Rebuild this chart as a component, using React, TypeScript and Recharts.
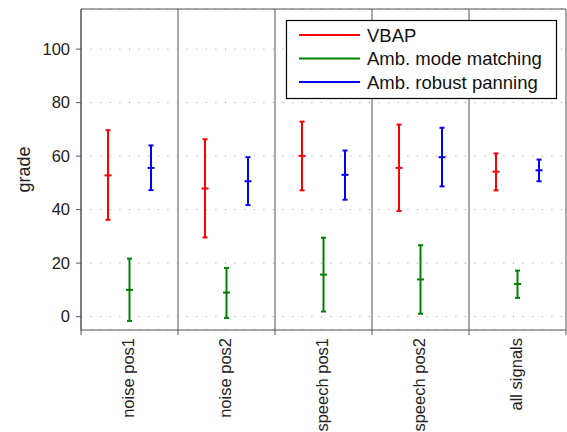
import React from 'react';
import { BarChart, Bar, XAxis, YAxis, CartesianGrid, ErrorBar, ReferenceLine } from 'recharts';

const categories = ['noise pos1', 'noise pos2', 'speech pos1', 'speech pos2', 'all signals'];

const vbapMean = [52.8, 47.9, 60.1, 55.6, 54.2];
const vbapLow = [36.2, 29.6, 47.2, 39.5, 47.2];
const vbapHigh = [69.7, 66.3, 72.9, 71.8, 61.0];

const modeMean = [10.0, 9.0, 15.7, 13.9, 12.2];
const modeLow = [-1.6, -0.5, 1.9, 1.1, 7.0];
const modeHigh = [21.7, 18.2, 29.5, 26.7, 17.2];

const robustMean = [55.6, 50.6, 53.0, 59.6, 54.7];
const robustLow = [47.3, 41.7, 43.7, 48.7, 50.6];
const robustHigh = [64.0, 59.6, 62.1, 70.6, 58.7];

const yTicks = [0, 20, 40, 60, 80, 100];

const series = [
  { key: 'vbap', name: 'VBAP', color: '#ff0000', mean: vbapMean, low: vbapLow, high: vbapHigh },
  { key: 'mode', name: 'Amb. mode matching', color: '#008000', mean: modeMean, low: modeLow, high: modeHigh },
  { key: 'robust', name: 'Amb. robust panning', color: '#0000ff', mean: robustMean, low: robustLow, high: robustHigh },
];

const data = categories.map((name, i) => {
  const row: any = { name };
  series.forEach((s) => {
    row[s.key] = s.mean[i];
    row[s.key + 'Err'] = [s.mean[i] - s.low[i], s.high[i] - s.mean[i]];
  });
  return row;
});

const FONT = '"Liberation Sans", Arial, sans-serif';
const FRAME = '#555';

// little horizontal dash at the mean
const meanTick = (color: string) => (props: any) => {
  const { x, y, width } = props;
  const cx = x + width / 2;
  return <line x1={cx - 3.5} x2={cx + 3.5} y1={y} y2={y} stroke={color} strokeWidth={2} />;
};

// group separator, runs 5px past the bottom axis like a tick mark
const Separator = (props: any) => {
  const { x1, x2, y1, y2 } = props;
  return <line x1={x1} x2={x2} y1={Math.min(y1, y2)} y2={Math.max(y1, y2) + 5} stroke={FRAME} strokeWidth={1} />;
};

const CategoryTick = (props: any) => {
  const { x, y, payload } = props;
  const bx = x + 4.5;
  const by = y + 8;
  return (
    <text x={bx} y={by} transform={`rotate(-90, ${bx}, ${by})`} textAnchor="end" fontSize={16.5} fill="#222" fontFamily={FONT}>
      {payload.value}
    </text>
  );
};

const GradeLabel = (props: any) => {
  const { viewBox } = props;
  const x = 29.5;
  const y = viewBox.y + viewBox.height / 2;
  return (
    <text x={x} y={y} transform={`rotate(-90, ${x}, ${y})`} textAnchor="middle" fontSize={18} fill="#222" fontFamily={FONT}>
      grade
    </text>
  );
};

function App() {
  return (
    <div style={{ position: 'absolute', left: 0, top: 0, width: 567, height: 432, fontFamily: FONT }}>
      <BarChart width={567} height={432} data={data} margin={{ top: 9, right: 1, left: 0, bottom: 0 }} barSize={10} barGap={11.5}>
        <CartesianGrid vertical={false} stroke="#999" strokeDasharray="1 8.6" />
        <XAxis dataKey="name" height={102} stroke={FRAME} tickLine={false} tickSize={0} tickMargin={0} interval={0} tick={<CategoryTick />} />
        <YAxis
          width={81}
          domain={[-5, 115]}
          ticks={yTicks}
          tickSize={5}
          tickMargin={6}
          stroke={FRAME}
          tick={{ fill: '#222', fontSize: 16.5 }}
          label={{ content: GradeLabel }}
        />
        {categories.map((c) => (
          <ReferenceLine key={c} x={c} position="start" shape={Separator} />
        ))}
        <ReferenceLine x={categories[categories.length - 1]} position="end" shape={Separator} />
        <ReferenceLine y={115} stroke={FRAME} />
        {series.map((s) => (
          <Bar key={s.key} dataKey={s.key} fill="none" shape={meanTick(s.color)} isAnimationActive={false}>
            <ErrorBar dataKey={s.key + 'Err'} direction="y" width={2.5} stroke={s.color} strokeWidth={2} isAnimationActive={false} />
          </Bar>
        ))}
      </BarChart>
      <svg width={567} height={432} style={{ position: 'absolute', left: 0, top: 0, pointerEvents: 'none' }}>
        <rect x={286.5} y={20.5} width={270} height={78} fill="#fff" stroke="#000" strokeWidth={1.2} />
        {series.map((s, i) => {
          const cy = 35 + i * 23.5;
          return (
            <g key={s.key}>
              <line x1={299} x2={360} y1={cy} y2={cy} stroke={s.color} strokeWidth={2} />
              <text x={367} y={cy} dy="0.36em" fontSize={18.5} fill="#111" fontFamily={FONT}>
                {s.name}
              </text>
            </g>
          );
        })}
      </svg>
    </div>
  );
}

export default App;
